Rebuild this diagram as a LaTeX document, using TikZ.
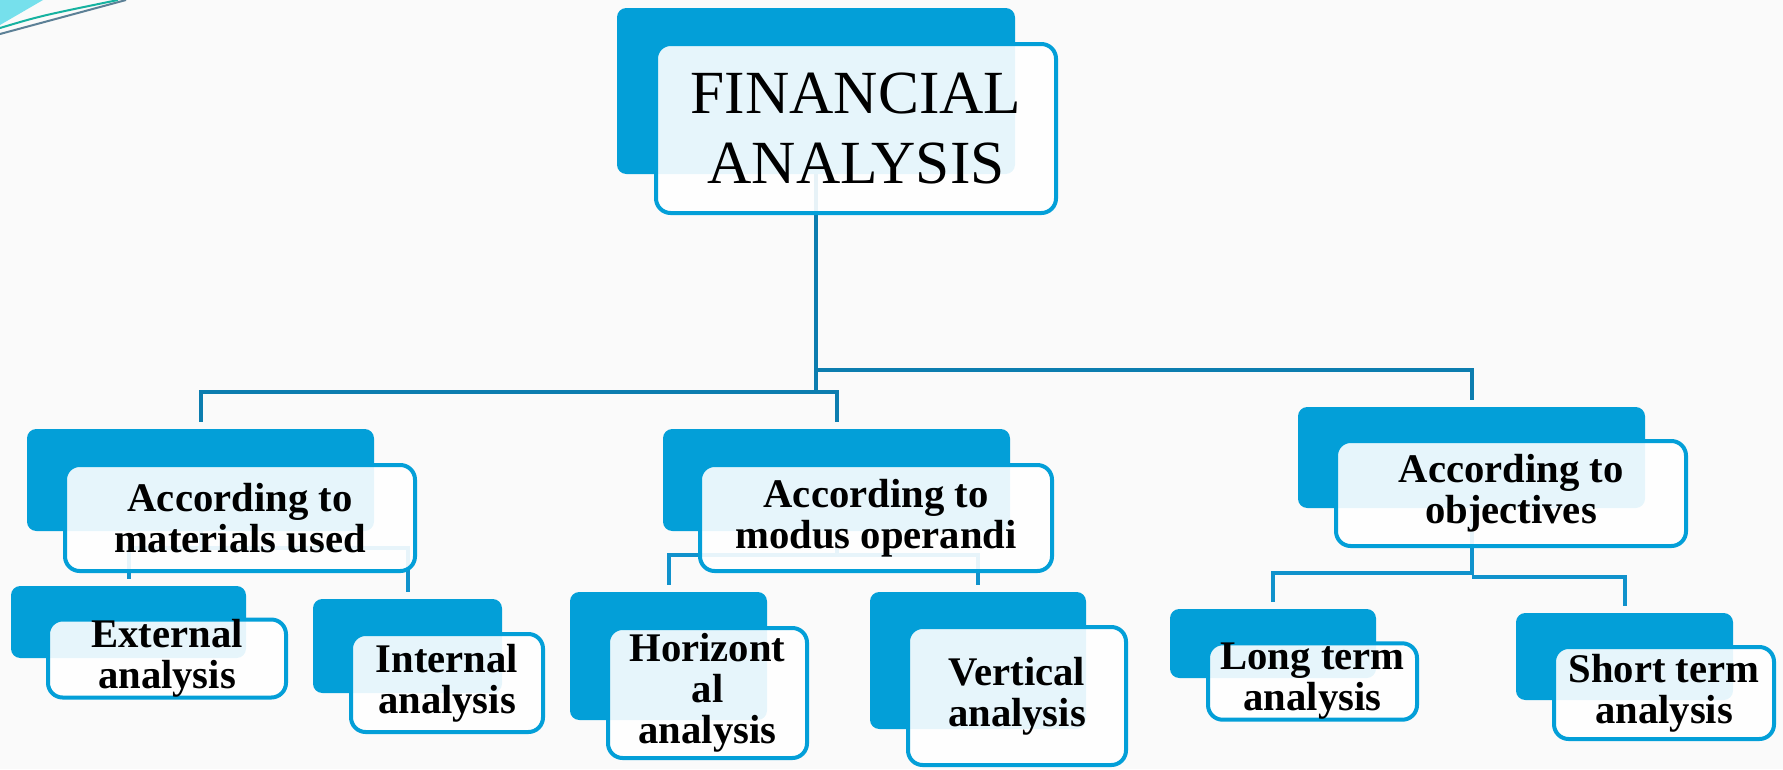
\documentclass[tikz,border=0pt]{standalone}
\usepackage{fontspec}
\setmainfont{Liberation Serif}
\usepackage{xcolor}
\definecolor{boxblue}{RGB}{3,159,216}
\definecolor{linedark}{RGB}{12,125,175}
\definecolor{linemid}{RGB}{16,146,204}
\definecolor{pagebg}{RGB}{250,250,250}
\definecolor{decocyan}{RGB}{118,224,236}
\definecolor{decoteal}{RGB}{22,178,160}
\definecolor{decogray}{RGB}{92,128,150}

\tikzset{
  backbox/.style 2 args={fill=boxblue, rounded corners=7pt, inner sep=0pt,
    minimum width=#1*0.75pt, minimum height=#2*0.75pt},
  frontbox/.style 2 args={draw=boxblue, line width=3pt, fill=white, fill opacity=0.9,
    text opacity=1, rounded corners=11pt, inner sep=0pt, align=center,
    minimum width=#1*0.75pt, minimum height=#2*0.75pt,
    font=\bfseries\fontsize{30.5}{30.75}\selectfont},
  topline/.style={draw=linedark, line width=3pt, shorten >=5pt},
  subline/.style={draw=linemid, line width=3pt, shorten >=5pt},
}

\begin{document}
\begin{tikzpicture}[x=0.75pt,y=0.75pt,yscale=-1,xscale=1]
%page, sets the size of the diagram
\fill[pagebg] (0,0) rectangle (1783,769);
\useasboundingbox (0,0) rectangle (1783,769);

%corner decoration
\fill[decocyan] (0,0) -- (43,0) -- (0,25) -- cycle;
\draw[decogray, line width=1.5pt] (0,34) -- (126,0);
\draw[decoteal, line width=1.5pt] (0,28) .. controls (40,16) .. (118,0);

%back boxes
\node[backbox={398}{166}] (topb) at (816,91) {};
\node[backbox={347}{102}] (ab) at (200.5,480) {};
\node[backbox={347}{102}] (bb) at (836.5,480) {};
\node[backbox={347}{101}] (cb) at (1471.5,457.5) {};
\node[backbox={235}{72}] (a1b) at (128.5,622) {};
\node[backbox={189}{94}] (a2b) at (407.5,646) {};
\node[backbox={197}{128}] (b1b) at (668.5,656) {};
\node[backbox={216}{137}] (b2b) at (978,660.5) {};
\node[backbox={206}{69}] (c1b) at (1273,643.5) {};
\node[backbox={217}{87}] (c2b) at (1624.5,656.5) {};

%connectors
\draw[topline] (topb.south) -- (topb.south |- 0,392) -| (ab.north);
\draw[topline] (topb.south |- 0,392) -| (bb.north);
\draw[topline] (topb.south) -- (topb.south |- 0,370) -| (cb.north);
\draw[subline] (ab.south) -- (ab.south |- 0,548) -| (a1b.north);
\draw[subline] (ab.south |- 0,548) -| (a2b.north);
\draw[subline] (bb.south) -- (bb.south |- 0,555) -| (b1b.north);
\draw[subline] (bb.south |- 0,555) -| (b2b.north);
\draw[subline] (cb.south) -- (cb.south |- 0,573) -| (c1b.north);
\draw[subline] (cb.south |- 0,577) -| (c2b.north);

%front boxes
\node[frontbox={400}{169}, font=\fontsize{46}{52.5}\selectfont] (top) at (856,128.5) {FINANCIAL\\ANALYSIS};
\node[frontbox={350}{106}] (mat) at (240,518) {According to\\materials used};
\node[frontbox={352}{106}] (mod) at (876,518) {According to\\modus operandi};
\node[frontbox={350}{105}] (obj) at (1511,493.5) {According to\\objectives};
\node[frontbox={238}{75}] (ext) at (167,658.5) {External\\analysis};
\node[frontbox={192}{98}] (int) at (447,683) {Internal\\analysis};
\node[frontbox={199}{130}] (hor) at (707.5,693) {Horizont\\al\\analysis};
\node[frontbox={218}{138}] (ver) at (1017,696) {Vertical\\analysis};
\node[frontbox={209}{73}] (lng) at (1312.5,681.5) {Long term\\analysis};
\node[frontbox={220}{92}] (sht) at (1664,693) {Short term\\analysis};
\end{tikzpicture}
\end{document}
